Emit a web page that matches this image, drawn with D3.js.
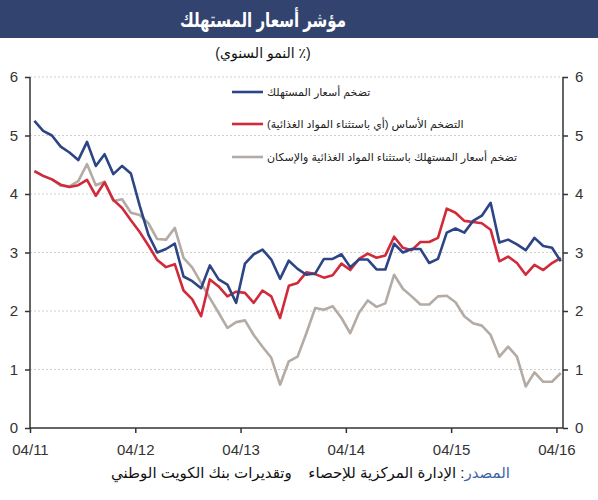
<!DOCTYPE html>
<html>
<head>
<meta charset="utf-8">
<script src="https://cdn.jsdelivr.net/npm/d3@7"></script>
<style>
    body { margin: 0; background: #fff; }
    text { font-family: "Liberation Sans", Arial, "DejaVu Sans", sans-serif; }
</style>
</head>
<body>
<script>
// monthly data, 04/2011 .. 04/2016
const tickLabels = ['04/11', '04/12', '04/13', '04/14', '04/15', '04/16'];

const cpi = [5.25, 5.08, 5.0, 4.81, 4.71, 4.58, 4.89, 4.48, 4.68, 4.34, 4.48, 4.35,
    3.8, 3.3, 3.0, 3.06, 3.15, 2.59, 2.51, 2.39, 2.78, 2.54, 2.45, 2.14,
    2.81, 2.97, 3.05, 2.88, 2.55, 2.86, 2.72, 2.62, 2.64, 2.89, 2.89, 2.97,
    2.75, 2.88, 2.88, 2.71, 2.71, 3.15, 3.0, 3.06, 3.06, 2.82, 2.89, 3.34,
    3.41, 3.34, 3.54, 3.63, 3.85, 3.17, 3.22, 3.14, 3.04, 3.25, 3.11, 3.08, 2.85];

const core = [4.39, 4.31, 4.25, 4.16, 4.12, 4.15, 4.24, 3.97, 4.2, 3.9, 3.76, 3.55,
    3.35, 3.12, 2.87, 2.75, 2.8, 2.35, 2.2, 1.91, 2.54, 2.42, 2.25, 2.33,
    2.31, 2.14, 2.35, 2.25, 1.88, 2.43, 2.48, 2.66, 2.63, 2.57, 2.61, 2.81,
    2.7, 2.89, 2.98, 2.91, 2.95, 3.27, 3.08, 3.04, 3.18, 3.18, 3.25, 3.75,
    3.68, 3.54, 3.52, 3.5, 3.39, 2.85, 2.93, 2.82, 2.62, 2.79, 2.7, 2.82, 2.91];

const exHousing = [4.39, 4.31, 4.25, 4.14, 4.13, 4.22, 4.51, 4.15, 4.21, 3.88, 3.91, 3.68,
    3.64, 3.5, 3.23, 3.22, 3.42, 2.91, 2.74, 2.48, 2.22, 1.97, 1.71, 1.81,
    1.84, 1.59, 1.39, 1.2, 0.74, 1.14, 1.22, 1.62, 2.05, 2.02, 2.08, 1.88,
    1.62, 1.97, 2.18, 2.07, 2.13, 2.62, 2.38, 2.25, 2.11, 2.11, 2.25, 2.26,
    2.15, 1.91, 1.79, 1.75, 1.59, 1.22, 1.39, 1.22, 0.71, 0.95, 0.79, 0.79, 0.94];

const seriesNames = [
    'تضخم أسعار المستهلك',
    'التضخم الأساس (أي باستثناء المواد الغذائية)',
    'تضخم أسعار المستهلك باستثناء المواد الغذائية والإسكان'
];
const seriesColors = ['#2c4584', '#d12a3b', '#b3aba4'];
const seriesData = [cpi, core, exHousing];

const width = 598, height = 500;
const plot_left = 30, plot_right = 563, plot_top = 77, plot_bottom = 428;

const svg = d3.select('body').append('svg')
    .attr('width', width)
    .attr('height', height);

// title bar
svg.append('rect')
    .attr('x', 0).attr('y', 0)
    .attr('width', width).attr('height', 38)
    .attr('fill', '#334370');
svg.append('text')
    .attr('x', 263).attr('y', 27)
    .attr('text-anchor', 'middle')
    .attr('direction', 'rtl')
    .attr('textLength', 166)
    .attr('lengthAdjust', 'spacingAndGlyphs')
    .attr('fill', '#fff')
    .style('font-size', '20px')
    .style('font-weight', 'bold')
    .text('مؤشر أسعار المستهلك');
svg.append('text')
    .attr('x', 263).attr('y', 58)
    .attr('text-anchor', 'middle')
    .attr('direction', 'rtl')
    .attr('fill', '#111')
    .style('font-size', '14px')
    .text('(٪ النمو السنوي)');

const x = d3.scaleLinear().domain([0, 60.75]).range([plot_left, plot_right]);
const y = d3.scaleLinear().domain([0, 6]).range([plot_bottom, plot_top]);

// grid
svg.append('g')
    .selectAll('line')
    .data(d3.range(1, 7))
    .enter().append('line')
    .attr('x1', plot_left).attr('x2', plot_right)
    .attr('y1', d => y(d)).attr('y2', d => y(d))
    .attr('stroke', '#cfcfcf')
    .attr('stroke-width', 1)
    .attr('stroke-dasharray', '2,2');

const yLeft = svg.append('g')
    .attr('transform', 'translate(' + plot_left + ',0)')
    .call(d3.axisLeft(y).ticks(6).tickSize(5).tickPadding(7));
const yRight = svg.append('g')
    .attr('transform', 'translate(' + plot_right + ',0)')
    .call(d3.axisRight(y).ticks(6).tickSize(5).tickPadding(7));
const xAxis = svg.append('g')
    .attr('transform', 'translate(0,' + plot_bottom + ')')
    .call(d3.axisBottom(x)
        .tickValues(tickLabels.map((d, i) => i * 12))
        .tickFormat((d, i) => tickLabels[i])
        .tickSize(5).tickPadding(11));

[yLeft, yRight, xAxis].forEach(function (g) {
    g.select('.domain').attr('stroke', '#333').attr('stroke-width', 1.5);
    g.selectAll('.tick line').attr('stroke', '#333').attr('stroke-width', 1.5);
    g.selectAll('.tick text')
        .attr('fill', '#333')
        .style('font-size', '15px')
        .style('font-family', '"Liberation Sans", Arial, sans-serif');
});
yLeft.select('.domain').attr('d', 'M0,' + plot_top + 'V' + plot_bottom);
yRight.select('.domain').attr('d', 'M0,' + plot_top + 'V' + plot_bottom);
xAxis.select('.domain').attr('d', 'M' + plot_left + ',0H' + plot_right);

// lines
const line = d3.line()
    .x((d, i) => x(i + 0.5))
    .y(d => y(d));

svg.append('g')
    .selectAll('path')
    .data([2, 1, 0])
    .enter().append('path')
    .attr('d', k => line(seriesData[k]))
    .attr('fill', 'none')
    .attr('stroke', k => seriesColors[k])
    .attr('stroke-width', 2.6)
    .attr('stroke-linejoin', 'round');

// legend
const legendY = [92, 124, 157];
const legend = svg.append('g')
    .selectAll('g')
    .data(seriesNames)
    .enter().append('g')
    .attr('transform', (d, i) => 'translate(232,' + legendY[i] + ')');
legend.append('line')
    .attr('x1', 0).attr('x2', 31)
    .attr('stroke', (d, i) => seriesColors[i])
    .attr('stroke-width', 2.6);
legend.append('text')
    .attr('x', 35).attr('y', 4)
    .attr('direction', 'rtl')
    .attr('text-anchor', 'end')
    .attr('fill', '#222')
    .style('font-size', '11px')
    .text(d => d);

// source
const src = svg.append('text')
    .attr('x', 510).attr('y', 478)
    .attr('text-anchor', 'start')
    .attr('direction', 'rtl')
    .style('font-size', '15px')
    .style('white-space', 'pre')
    .attr('fill', '#111');
src.append('tspan').attr('fill', '#3d64a8').text('المصدر');
src.append('tspan').text(': الإدارة المركزية للإحصاء    وتقديرات بنك الكويت الوطني');
</script>
</body>
</html>
